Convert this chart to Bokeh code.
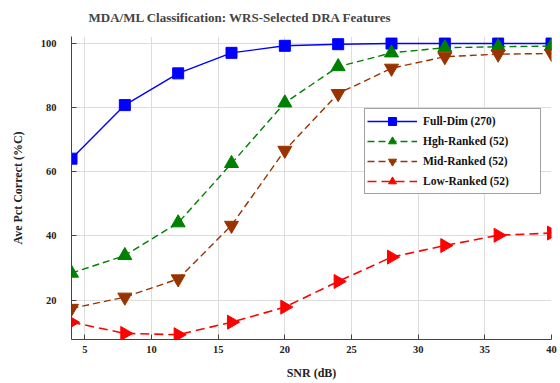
import math
from bokeh.plotting import figure
from bokeh.models import Legend, LegendItem, FixedTicker, Range1d
from bokeh.embed import file_html
from bokeh.resources import INLINE

# ---- data ----
snr = [4, 8, 12, 16, 20, 24, 28, 32, 36, 40]
full_dim = [64.1, 80.8, 90.7, 97.1, 99.3, 99.8, 100.0, 100.0, 100.0, 100.0]
hgh_ranked = [28.4, 33.9, 44.1, 62.6, 81.5, 92.8, 97.1, 98.7, 99.0, 99.2]
mid_ranked = [17.4, 20.9, 26.6, 43.3, 66.7, 84.4, 92.3, 95.9, 96.7, 96.9]
low_ranked = [13.1, 9.6, 9.2, 13.1, 17.8, 25.8, 33.4, 37.0, 40.2, 40.9]

series_labels = ["Full-Dim (270)", "Hgh-Ranked (52)", "Mid-Ranked (52)", "Low-Ranked (52)"]
x_ticks = [5, 10, 15, 20, 25, 30, 35, 40]
y_ticks = [20, 40, 60, 80, 100]

title_text = "MDA/ML Classification:  WRS-Selected DRA Features"
x_label = "SNR (dB)"
y_label = "Ave Pct Correct (%C)"

FONT = "Liberation Serif"

p = figure(width=560, height=383, output_backend="svg", toolbar_location=None,
           x_range=Range1d(4, 40), y_range=Range1d(7.7, 102.2),
           min_border_left=71, min_border_right=9, min_border_top=36, min_border_bottom=44)

p.title.text = title_text
p.title.text_font = FONT
p.title.text_font_style = "bold"
p.title.text_font_size = "13px"
p.title.align = "left"
p.title.offset = 17
p.title.standoff = 19
p.title.vertical_align = "top"

p.outline_line_color = None
p.background_fill_color = "white"

for ax in (p.xaxis[0], p.yaxis[0]):
    ax.axis_line_color = "#444444"
    ax.major_tick_line_color = "#444444"
    ax.major_tick_in = 5
    ax.major_tick_out = 0
    ax.minor_tick_line_color = None
    ax.major_label_text_font = FONT
    ax.major_label_text_font_style = "bold"
    ax.major_label_text_font_size = "10.5px"
    ax.major_label_text_color = "#222222"
    ax.axis_label_text_font = FONT
    ax.axis_label_text_font_style = "bold"
    ax.axis_label_text_font_size = "12px"
    ax.axis_label_text_color = "#222222"

p.xaxis.ticker = FixedTicker(ticks=x_ticks)
p.yaxis.ticker = FixedTicker(ticks=y_ticks)
p.xaxis.axis_label = x_label
p.yaxis.axis_label = y_label
p.xaxis.major_label_standoff = 6
p.xaxis.axis_label_standoff = 10
p.yaxis.major_label_standoff = 15
p.yaxis.axis_label_standoff = 13

p.xgrid.ticker = FixedTicker(ticks=x_ticks)
p.ygrid.ticker = FixedTicker(ticks=y_ticks)
for g in (p.xgrid[0], p.ygrid[0]):
    g.grid_line_color = "#dddddd"
    g.grid_line_width = 1

items = []

l1 = p.line(snr, full_dim, line_color="#0000ff", line_width=1.4)
s1 = p.scatter(snr, full_dim, marker="square", size=11, fill_color="#0000ff", line_color="#0000ff")
items.append(LegendItem(label=series_labels[0], renderers=[l1, s1]))

l2 = p.line(snr, hgh_ranked, line_color="#008000", line_width=1.4, line_dash="7 4")
s2 = p.scatter(snr, hgh_ranked, marker="triangle", size=14, fill_color="#008000", line_color="#008000")
items.append(LegendItem(label=series_labels[1], renderers=[l2, s2]))

l3 = p.line(snr, mid_ranked, line_color="#993300", line_width=1.4, line_dash="7 4")
s3 = p.scatter(snr, mid_ranked, marker="inverted_triangle", size=14, fill_color="#993300", line_color="#993300")
items.append(LegendItem(label=series_labels[2], renderers=[l3, s3]))

l4 = p.line(snr, low_ranked, line_color="#ff0000", line_width=1.6, line_dash="9 5")
s4 = p.scatter(snr, low_ranked, marker="triangle", angle=-math.pi / 2, size=14,
               fill_color="#ff0000", line_color="#ff0000")
items.append(LegendItem(label=series_labels[3], renderers=[l4, s4]))

legend = Legend(items=items, location=(293, 145))
legend.label_text_font = FONT
legend.label_text_font_style = "bold"
legend.label_text_font_size = "11.5px"
legend.label_text_color = "#111111"
legend.glyph_width = 50
legend.glyph_height = 20
legend.label_height = 18
legend.spacing = 0
legend.padding = 2
legend.margin = 0
legend.label_standoff = 6
legend.label_width = 115
legend.border_line_color = "#444444"
legend.border_line_width = 1
legend.background_fill_alpha = 1.0
p.add_layout(legend, "center")

open("out.html", "w").write(file_html(p, INLINE))
